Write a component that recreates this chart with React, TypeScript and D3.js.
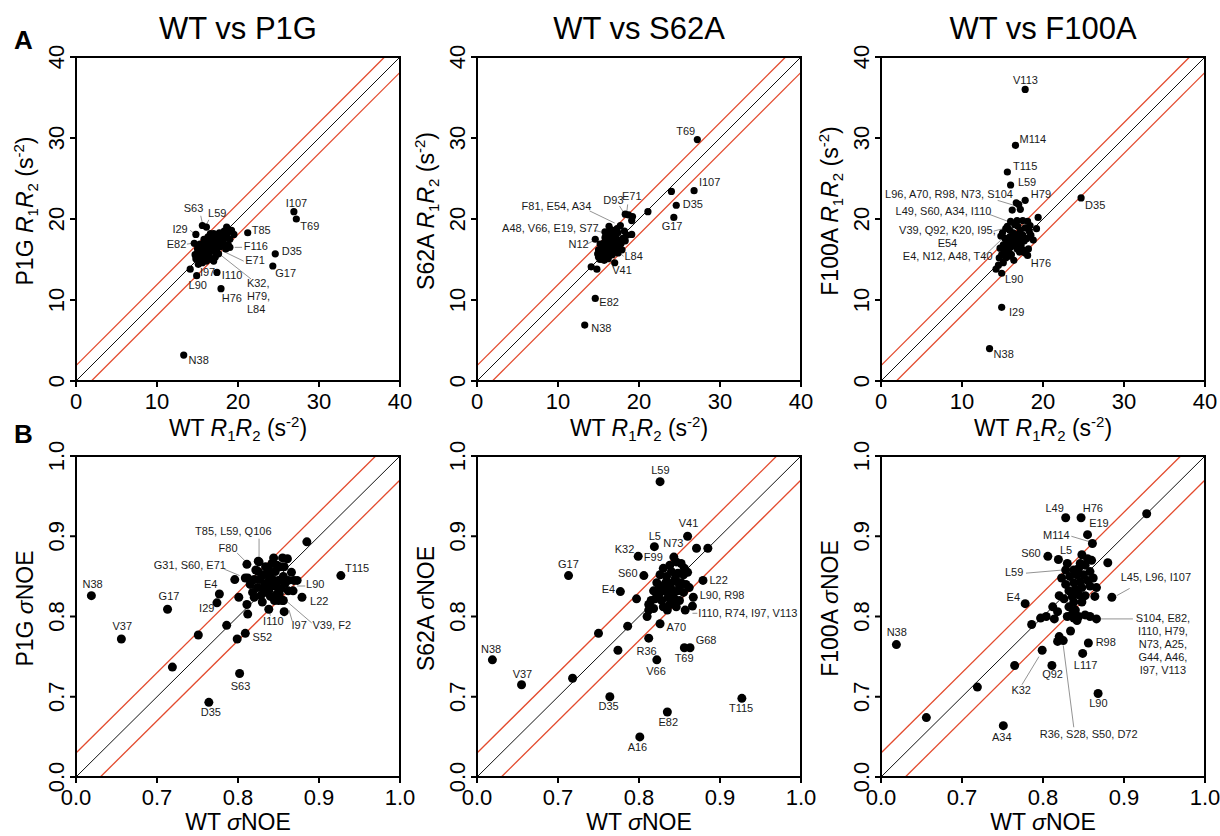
import React from 'react';
import * as d3 from 'd3';

const FONT = '"Liberation Sans", Arial, Helvetica, sans-serif';
const RED = '#e34b2e';

const rTicks = [0, 10, 20, 30, 40];
const noeTicks = [0.6, 0.7, 0.8, 0.9, 1.0];
const noeTickLabels = ['0.0', '0.7', '0.8', '0.9', '1.0'];
const mutants = ['P1G', 'S62A', 'F100A'];

// R1R2 (s-2), [WT, mutant]
const p1gR1R2 = [
  [15.2, 15.0], [15.5, 15.4], [15.8, 15.1], [15.0, 15.8], [15.4, 16.0], [15.9, 15.7], [16.2, 15.5], [16.5, 15.9],
  [16.0, 16.3], [15.6, 16.6], [15.3, 16.9], [16.4, 16.7], [16.8, 16.4], [17.1, 16.0], [17.4, 16.3], [16.9, 17.0],
  [16.5, 17.3], [16.1, 17.0], [15.8, 17.5], [16.3, 17.8], [16.7, 17.6], [17.2, 17.4], [17.6, 17.0], [17.9, 16.6],
  [18.2, 17.1], [17.8, 17.6], [17.4, 17.9], [17.0, 18.2], [16.6, 18.2], [18.0, 18.0], [18.4, 17.7], [18.7, 18.2],
  [18.3, 18.5], [18.6, 19.0], [19.2, 18.6], [19.5, 18.1], [19.0, 17.5], [18.8, 16.8], [18.5, 16.3], [17.6, 15.7],
  [17.2, 15.3], [16.7, 15.0], [16.1, 14.8], [15.6, 14.6], [15.1, 14.4], [14.8, 15.1], [14.7, 15.6], [15.0, 16.3],
  [16.2, 16.1], [16.6, 16.6], [17.0, 16.7], [15.7, 16.2], [16.4, 15.3], [17.3, 16.9], [17.7, 18.3], [16.9, 17.7],
  [26.9, 20.9], [27.2, 20.0], [21.2, 18.3], [24.6, 15.7], [24.3, 14.2], [17.9, 11.4], [17.4, 13.4], [14.9, 13.0],
  [17.0, 14.8], [13.3, 3.2], [15.6, 19.2], [16.1, 19.0], [14.8, 18.1], [14.6, 17.0], [14.1, 13.8], [19.0, 16.5],
];
const s62aR1R2 = [
  [15.0, 15.3], [15.3, 15.8], [15.6, 15.4], [15.0, 16.2], [15.4, 16.5], [15.8, 16.1], [16.1, 15.8], [16.4, 15.5],
  [16.0, 16.6], [15.6, 17.0], [15.2, 16.9], [16.3, 17.1], [16.7, 16.8], [17.0, 16.4], [17.3, 16.0], [16.8, 17.4],
  [16.4, 17.6], [16.0, 17.3], [15.8, 17.7], [16.2, 18.0], [16.6, 18.2], [17.1, 17.9], [17.5, 17.4], [17.8, 17.0],
  [17.6, 16.5], [18.0, 17.6], [17.4, 18.3], [17.0, 18.6], [16.5, 18.7], [16.3, 19.1], [17.7, 19.2], [18.2, 18.5],
  [18.5, 18.0], [19.1, 18.1], [18.3, 17.3], [17.9, 16.2], [17.4, 15.8], [16.7, 15.6], [16.2, 15.1], [15.7, 14.9],
  [15.2, 15.0], [15.8, 18.4], [16.9, 17.1], [16.1, 16.9], [17.2, 17.0], [15.5, 16.0], [16.6, 16.3], [17.3, 18.8],
  [14.9, 15.7], [27.2, 29.8], [26.8, 23.5], [24.0, 23.4], [24.6, 21.7], [24.3, 20.2], [21.1, 20.9], [18.3, 20.6],
  [18.7, 20.5], [19.2, 20.3], [19.1, 19.8], [14.6, 10.2], [13.3, 6.9], [17.0, 14.6], [14.1, 14.1], [14.8, 13.8],
  [14.6, 17.5],
];
const f100aR1R2 = [
  [14.6, 15.2], [14.9, 15.6], [15.2, 15.9], [14.7, 16.4], [15.1, 16.8], [15.5, 16.4], [15.8, 16.0], [16.1, 15.6],
  [15.6, 17.2], [15.3, 17.6], [14.8, 17.9], [15.0, 18.3], [15.9, 17.8], [16.2, 17.3], [16.5, 16.8], [16.8, 16.3],
  [17.1, 15.9], [17.5, 16.2], [17.8, 15.8], [18.2, 16.3], [17.3, 16.8], [16.9, 17.3], [16.6, 17.8], [16.3, 18.3],
  [15.9, 18.6], [15.6, 19.1], [16.0, 19.7], [16.8, 19.8], [17.5, 19.8], [18.1, 19.7], [18.4, 19.2], [17.8, 18.9],
  [17.2, 18.6], [16.9, 19.1], [16.5, 19.3], [17.5, 18.0], [18.0, 17.6], [18.5, 18.0], [18.8, 17.4], [19.2, 18.8],
  [18.3, 18.5], [17.7, 17.3], [16.1, 16.6], [15.4, 15.2], [15.9, 15.4], [16.4, 14.9], [15.1, 14.6], [14.5, 14.3],
  [16.9, 18.1], [17.4, 17.5], [15.4, 18.8], [17.8, 36.0], [16.6, 29.1], [15.6, 25.8], [16.0, 24.2], [17.8, 22.3],
  [16.7, 22.0], [17.0, 21.8], [16.2, 21.1], [17.2, 21.2], [24.7, 22.6], [19.4, 20.2], [18.1, 15.5], [14.9, 13.3],
  [14.9, 9.1], [13.4, 4.0], [14.2, 13.8],
];

// sigma NOE, [WT, mutant]
const p1gNoe = [
  [0.822, 0.858], [0.826, 0.868], [0.820, 0.846], [0.824, 0.836], [0.828, 0.826], [0.832, 0.852], [0.836, 0.842],
  [0.834, 0.862], [0.838, 0.832], [0.842, 0.866], [0.846, 0.856], [0.843, 0.846], [0.847, 0.838], [0.851, 0.828],
  [0.855, 0.873], [0.861, 0.872], [0.852, 0.862], [0.856, 0.850], [0.858, 0.841], [0.862, 0.832], [0.866, 0.855],
  [0.869, 0.845], [0.868, 0.832], [0.840, 0.825], [0.845, 0.820], [0.830, 0.818], [0.818, 0.830], [0.815, 0.840],
  [0.812, 0.848], [0.850, 0.845], [0.839, 0.850], [0.833, 0.840], [0.827, 0.846], [0.848, 0.864], [0.844, 0.873],
  [0.857, 0.862], [0.862, 0.845], [0.853, 0.835], [0.841, 0.838], [0.835, 0.830], [0.855, 0.820], [0.848, 0.828],
  [0.873, 0.845], [0.838, 0.858], [0.825, 0.856], [0.830, 0.835], [0.820, 0.824],
  [0.619, 0.826], [0.656, 0.772], [0.713, 0.809], [0.719, 0.737], [0.764, 0.693], [0.802, 0.729], [0.751, 0.777],
  [0.786, 0.789], [0.799, 0.772], [0.809, 0.779], [0.777, 0.828], [0.774, 0.817], [0.812, 0.803], [0.801, 0.824],
  [0.811, 0.815], [0.927, 0.851], [0.885, 0.893], [0.879, 0.824], [0.857, 0.806], [0.850, 0.820], [0.856, 0.820],
  [0.838, 0.809], [0.796, 0.846], [0.809, 0.848], [0.811, 0.865], [0.825, 0.869],
];
const s62aNoe = [
  [0.843, 0.874], [0.838, 0.864], [0.846, 0.868], [0.852, 0.866], [0.856, 0.860], [0.830, 0.860], [0.826, 0.852],
  [0.834, 0.850], [0.840, 0.856], [0.848, 0.854], [0.855, 0.852], [0.860, 0.855], [0.822, 0.842], [0.828, 0.838],
  [0.836, 0.842], [0.844, 0.844], [0.852, 0.842], [0.858, 0.840], [0.818, 0.832], [0.825, 0.828], [0.832, 0.832],
  [0.840, 0.834], [0.848, 0.832], [0.855, 0.830], [0.862, 0.836], [0.820, 0.822], [0.828, 0.820], [0.836, 0.824],
  [0.844, 0.822], [0.850, 0.820], [0.830, 0.812], [0.838, 0.815], [0.846, 0.812], [0.835, 0.808], [0.842, 0.828],
  [0.850, 0.838], [0.833, 0.842], [0.815, 0.820], [0.812, 0.815], [0.818, 0.810], [0.812, 0.808], [0.845, 0.848],
  [0.838, 0.838], [0.826, 0.834],
  [0.826, 0.968], [0.860, 0.900], [0.819, 0.887], [0.799, 0.875], [0.871, 0.885], [0.885, 0.885], [0.713, 0.851],
  [0.806, 0.851], [0.777, 0.831], [0.879, 0.845], [0.867, 0.824], [0.866, 0.813], [0.857, 0.808], [0.797, 0.822],
  [0.810, 0.800], [0.826, 0.791], [0.786, 0.788], [0.750, 0.779], [0.774, 0.758], [0.812, 0.773], [0.856, 0.761],
  [0.863, 0.761], [0.822, 0.746], [0.619, 0.746], [0.655, 0.715], [0.718, 0.723], [0.764, 0.700], [0.835, 0.681],
  [0.801, 0.650], [0.927, 0.698],
];
const f100aNoe = [
  [0.848, 0.877], [0.855, 0.872], [0.860, 0.870], [0.852, 0.864], [0.844, 0.860], [0.838, 0.858], [0.828, 0.858],
  [0.833, 0.850], [0.842, 0.852], [0.850, 0.852], [0.858, 0.856], [0.862, 0.848], [0.855, 0.845], [0.846, 0.843],
  [0.838, 0.842], [0.828, 0.840], [0.832, 0.832], [0.840, 0.834], [0.848, 0.836], [0.858, 0.838], [0.866, 0.836],
  [0.864, 0.825], [0.852, 0.826], [0.844, 0.827], [0.836, 0.825], [0.826, 0.822], [0.820, 0.826], [0.838, 0.818],
  [0.848, 0.818], [0.832, 0.812], [0.840, 0.808], [0.836, 0.803], [0.844, 0.800], [0.852, 0.802], [0.858, 0.800],
  [0.866, 0.797], [0.838, 0.798], [0.812, 0.812], [0.818, 0.806], [0.814, 0.797], [0.804, 0.800], [0.797, 0.798],
  [0.830, 0.800], [0.842, 0.795], [0.846, 0.866], [0.823, 0.848], [0.830, 0.866],
  [0.928, 0.928], [0.828, 0.923], [0.847, 0.923], [0.855, 0.902], [0.861, 0.891], [0.806, 0.875], [0.819, 0.871],
  [0.880, 0.867], [0.885, 0.824], [0.778, 0.816], [0.786, 0.790], [0.799, 0.758], [0.811, 0.739], [0.820, 0.775],
  [0.818, 0.769], [0.825, 0.770], [0.834, 0.782], [0.856, 0.767], [0.849, 0.754], [0.868, 0.704], [0.751, 0.664],
  [0.765, 0.739], [0.719, 0.712], [0.656, 0.674], [0.619, 0.765],
];

type Lbl = { t: string | string[]; x: number; y: number; anchor?: string; lead?: number[] };

const p1gR1R2Labels: Lbl[] = [
  { t: 'I107', x: 25.9, y: 21.5 }, { t: 'T69', x: 27.7, y: 18.6 }, { t: 'T85', x: 21.7, y: 18.2 },
  { t: 'F116', x: 20.7, y: 16.2, lead: [20.5, 16.5, 19.6, 16.5] }, { t: 'D35', x: 25.4, y: 15.5 },
  { t: 'G17', x: 24.6, y: 12.8 }, { t: 'E71', x: 20.9, y: 14.4, lead: [20.7, 14.8, 18.0, 16.1] },
  { t: ['K32,', 'H79,', 'L84'], x: 21.1, y: 11.6, lead: [21.6, 12.6, 17.8, 15.6] },
  { t: 'I110', x: 18.0, y: 12.6 }, { t: 'H76', x: 18.0, y: 9.8 }, { t: 'L90', x: 13.9, y: 11.3 },
  { t: 'I97', x: 15.3, y: 13.0 }, { t: 'S63', x: 13.3, y: 20.9, lead: [15.4, 20.4, 15.6, 19.5] },
  { t: 'L59', x: 16.3, y: 20.2, lead: [16.4, 19.9, 16.1, 19.3] },
  { t: 'I29', x: 11.9, y: 18.3, lead: [14.1, 18.6, 14.6, 18.2] },
  { t: 'E82', x: 11.2, y: 16.4, lead: [13.7, 16.9, 14.3, 17.0] }, { t: 'N38', x: 13.9, y: 2.1 },
];
const s62aR1R2Labels: Lbl[] = [
  { t: 'T69', x: 24.6, y: 30.4 }, { t: 'I107', x: 27.4, y: 24.1 }, { t: 'D35', x: 25.4, y: 21.3 },
  { t: 'G17', x: 22.8, y: 18.6 }, { t: 'E71', x: 17.9, y: 22.3, lead: [18.6, 21.8, 18.5, 20.9] },
  { t: 'D93', x: 15.6, y: 21.9, lead: [17.6, 21.6, 18.1, 20.8] },
  { t: 'F81, E54, A34', x: 5.5, y: 21.1, lead: [13.9, 21.0, 17.0, 19.5] },
  { t: 'A48, V66, E19, S77', x: 3.1, y: 18.4, lead: [14.5, 18.6, 15.7, 18.3] },
  { t: 'N12', x: 11.3, y: 16.4, lead: [13.6, 16.9, 14.5, 17.4] },
  { t: 'L84', x: 18.2, y: 14.9, lead: [18.1, 15.4, 17.6, 15.8] }, { t: 'V41', x: 16.7, y: 13.2 },
  { t: 'E82', x: 15.1, y: 9.3 }, { t: 'N38', x: 14.1, y: 6.1 },
];
const f100aR1R2Labels: Lbl[] = [
  { t: 'V113', x: 16.3, y: 36.7 }, { t: 'M114', x: 17.1, y: 29.4 }, { t: 'T115', x: 16.3, y: 26.0 },
  { t: 'L59', x: 16.9, y: 24.1 }, { t: 'H79', x: 18.5, y: 22.6 }, { t: 'D35', x: 25.2, y: 21.2 },
  { t: 'L96, A70, R98, N73, S104', x: 0.5, y: 22.6, lead: [14.4, 22.3, 16.4, 21.7] },
  { t: 'L49, S60, A34, I110', x: 1.8, y: 20.5, lead: [13.3, 20.6, 15.7, 19.7] },
  { t: ['V39, Q92, K20, I95,', 'E54'], x: 8.2, y: 18.2, anchor: 'middle', lead: [13.9, 18.5, 15.8, 19.0] },
  { t: 'E4, N12, A48, T40', x: 2.7, y: 14.9, lead: [12.6, 15.3, 14.8, 17.4] },
  { t: 'H76', x: 18.5, y: 14.1 }, { t: 'L90', x: 15.3, y: 12.1 }, { t: 'I29', x: 15.8, y: 8.0 },
  { t: 'N38', x: 13.9, y: 2.9 },
];
const p1gNoeLabels: Lbl[] = [
  { t: 'N38', x: 0.608, y: 0.835 }, { t: 'V37', x: 0.645, y: 0.783 }, { t: 'G17', x: 0.702, y: 0.821 },
  { t: 'E4', x: 0.758, y: 0.835 }, { t: 'I29', x: 0.752, y: 0.806 }, { t: 'D35', x: 0.754, y: 0.676 },
  { t: 'S63', x: 0.791, y: 0.708 }, { t: 'S52', x: 0.818, y: 0.769 },
  { t: 'T85, L59, Q106', x: 0.747, y: 0.902, lead: [0.826, 0.897, 0.826, 0.871] },
  { t: 'F80', x: 0.776, y: 0.880, lead: [0.799, 0.879, 0.809, 0.869] },
  { t: 'G31, S60, E71', x: 0.696, y: 0.859, lead: [0.783, 0.859, 0.802, 0.851] },
  { t: 'L90', x: 0.884, y: 0.836, lead: [0.883, 0.838, 0.873, 0.838] }, { t: 'L22', x: 0.889, y: 0.814 },
  { t: 'T115', x: 0.932, y: 0.855 }, { t: 'I110', x: 0.831, y: 0.789, lead: [0.840, 0.801, 0.837, 0.812] },
  { t: 'I97', x: 0.866, y: 0.784, lead: [0.867, 0.794, 0.863, 0.808] },
  { t: 'V39, F2', x: 0.892, y: 0.784, lead: [0.891, 0.792, 0.860, 0.819] },
];
const s62aNoeLabels: Lbl[] = [
  { t: 'L59', x: 0.815, y: 0.978 }, { t: 'V41', x: 0.849, y: 0.912 }, { t: 'L5', x: 0.812, y: 0.895 },
  { t: 'N73', x: 0.830, y: 0.887 }, { t: 'K32', x: 0.770, y: 0.879 }, { t: 'F99', x: 0.806, y: 0.869 },
  { t: 'S60', x: 0.774, y: 0.849 }, { t: 'G17', x: 0.700, y: 0.860 }, { t: 'E4', x: 0.754, y: 0.829 },
  { t: 'L22', x: 0.887, y: 0.841 }, { t: 'L90, R98', x: 0.875, y: 0.822 },
  { t: 'I110, R74, I97, V113', x: 0.873, y: 0.800, lead: [0.866, 0.804, 0.872, 0.804] },
  { t: 'A70', x: 0.834, y: 0.782 }, { t: 'G68', x: 0.870, y: 0.766 }, { t: 'T69', x: 0.844, y: 0.743 },
  { t: 'R36', x: 0.797, y: 0.752 }, { t: 'V66', x: 0.809, y: 0.727 }, { t: 'N38', x: 0.605, y: 0.755 },
  { t: 'V37', x: 0.644, y: 0.723 }, { t: 'D35', x: 0.750, y: 0.684 }, { t: 'E82', x: 0.824, y: 0.663 },
  { t: 'A16', x: 0.786, y: 0.633 }, { t: 'T115', x: 0.911, y: 0.681 },
];
const f100aNoeLabels: Lbl[] = [
  { t: 'L49', x: 0.803, y: 0.930 }, { t: 'H76', x: 0.849, y: 0.930 }, { t: 'E19', x: 0.857, y: 0.911 },
  { t: 'M114', x: 0.800, y: 0.897, lead: [0.835, 0.900, 0.858, 0.893] },
  { t: 'S60', x: 0.773, y: 0.874 }, { t: 'L5', x: 0.821, y: 0.878 },
  { t: 'L59', x: 0.753, y: 0.851, lead: [0.779, 0.854, 0.825, 0.858] },
  { t: 'L45, L96, I107', x: 0.896, y: 0.844, lead: [0.907, 0.835, 0.891, 0.826] },
  { t: 'E4', x: 0.755, y: 0.819 },
  { t: ['S104, E82,', 'I110, H79,', 'N73, A25,', 'G44, A46,', 'I97, V113'], x: 0.948, y: 0.793, anchor: 'middle', lead: [0.871, 0.797, 0.911, 0.797] },
  { t: 'R98', x: 0.865, y: 0.763 }, { t: 'L117', x: 0.838, y: 0.735 }, { t: 'Q92', x: 0.799, y: 0.723 },
  { t: 'K32', x: 0.761, y: 0.704, lead: [0.774, 0.715, 0.795, 0.750] }, { t: 'L90', x: 0.857, y: 0.687 },
  { t: 'A34', x: 0.737, y: 0.645 },
  { t: 'R36, S28, S50, D72', x: 0.796, y: 0.648, lead: [0.838, 0.662, 0.825, 0.764] },
  { t: 'N38', x: 0.607, y: 0.776 },
];

const r1r2Sets = [p1gR1R2, s62aR1R2, f100aR1R2];
const r1r2LabelSets = [p1gR1R2Labels, s62aR1R2Labels, f100aR1R2Labels];
const noeSets = [p1gNoe, s62aNoe, f100aNoe];
const noeLabelSets = [p1gNoeLabels, s62aNoeLabels, f100aNoeLabels];

const colLeft = [76, 477, 881];
const boxW = 324;
const rowTop = [57, 456];
const boxH = [324, 321];

function R1R2Text({ who }: { who: string }) {
  return (
    <>
      <tspan>{who} </tspan>
      <tspan fontStyle="italic">R</tspan>
      <tspan fontSize={15} dy={5}>1</tspan>
      <tspan fontStyle="italic" dy={-5}>R</tspan>
      <tspan fontSize={15} dy={5}>2</tspan>
      <tspan dy={-5}> (s</tspan>
      <tspan fontSize={15} dy={-9}>-2</tspan>
      <tspan dy={9}>)</tspan>
    </>
  );
}

function NoeText({ who }: { who: string }) {
  return (
    <>
      <tspan>{who} </tspan>
      <tspan fontStyle="italic">σ</tspan>
      <tspan>NOE</tspan>
    </>
  );
}

function Panel({ row, col }: { row: number; col: number }) {
  const left = colLeft[col];
  const top = rowTop[row];
  const h = boxH[row];
  const isR = row === 0;
  const dom = isR ? [0, 40] : [0.6, 1.0];
  const off = isR ? 1.9 : 0.03;
  const ticks = isR ? rTicks : noeTicks;
  const fmt = (v: number, i: number) => (isR ? String(v) : noeTickLabels[i]);
  const pts = isR ? r1r2Sets[col] : noeSets[col];
  const labels = isR ? r1r2LabelSets[col] : noeLabelSets[col];
  const x = d3.scaleLinear().domain(dom).range([left, left + boxW]);
  const y = d3.scaleLinear().domain(dom).range([top + h, top]);
  const [lo, hi] = dom;
  const bottom = top + h;
  const who = mutants[col];
  const cy = top + h / 2 - 8;
  const r = isR ? 3.6 : 4.5;

  return (
    <g>
      {/* identity and +/- offset lines */}
      <line x1={x(lo)} y1={y(lo)} x2={x(hi)} y2={y(hi)} stroke="#111" strokeWidth={1} />
      <line x1={x(lo)} y1={y(lo + off)} x2={x(hi - off)} y2={y(hi)} stroke={RED} strokeWidth={1.3} />
      <line x1={x(lo + off)} y1={y(lo)} x2={x(hi)} y2={y(hi - off)} stroke={RED} strokeWidth={1.3} />

      {labels.filter(l => l.lead).map((l, i) => (
        <line key={'ld' + i} x1={x(l.lead![0])} y1={y(l.lead![1])} x2={x(l.lead![2])} y2={y(l.lead![3])}
          stroke="#777" strokeWidth={0.8} />
      ))}

      {pts.map((p, i) => (
        <circle key={i} cx={x(p[0])} cy={y(p[1])} r={r} fill="#000" />
      ))}

      {labels.map((l, i) => {
        const lines = Array.isArray(l.t) ? l.t : [l.t];
        return (
          <text key={'lb' + i} x={x(l.x)} y={y(l.y)} fontSize={11} fill="#1a1a1a" textAnchor={l.anchor || 'start'}>
            {lines.map((s, j) => (
              <tspan key={j} x={x(l.x)} dy={j === 0 ? 0 : 13}>{s}</tspan>
            ))}
          </text>
        );
      })}

      <rect x={left} y={top} width={boxW} height={h} fill="none" stroke="#000" strokeWidth={2} />

      {ticks.map((t, i) => (
        <g key={'t' + i}>
          <line x1={x(t)} x2={x(t)} y1={bottom} y2={bottom + 6} stroke="#000" strokeWidth={2} />
          <text x={x(t)} y={bottom + 28} fontSize={22} textAnchor="middle">{fmt(t, i)}</text>
          <line x1={left - 6} x2={left} y1={y(t)} y2={y(t)} stroke="#000" strokeWidth={2} />
          <text transform={`translate(${left - 12},${y(t)}) rotate(-90)`} fontSize={22} textAnchor="middle">
            {fmt(t, i)}
          </text>
        </g>
      ))}

      <text x={left + boxW / 2} y={bottom + (isR ? 55 : 53)} fontSize={23} textAnchor="middle">
        {isR ? <R1R2Text who="WT" /> : <NoeText who="WT" />}
      </text>
      <text transform={`translate(${left - 43},${cy}) rotate(-90)`} fontSize={23} textAnchor="middle">
        {isR ? <R1R2Text who={who} /> : <NoeText who={who} />}
      </text>

      {isR && (
        <text x={left + boxW / 2} y={39} fontSize={31} textAnchor="middle">WT vs {who}</text>
      )}
    </g>
  );
}

export default function App() {
  return (
    <svg width={1220} height={836} style={{ position: 'absolute', left: 0, top: 0, background: '#fff' }}
      fontFamily={FONT}>
      <rect width={1220} height={836} fill="#fff" />
      <text x={14} y={49} fontSize={26} fontWeight="bold">A</text>
      <text x={14} y={443} fontSize={26} fontWeight="bold">B</text>
      {[0, 1].map(row => [0, 1, 2].map(col => <Panel key={row + '-' + col} row={row} col={col} />))}
    </svg>
  );
}
